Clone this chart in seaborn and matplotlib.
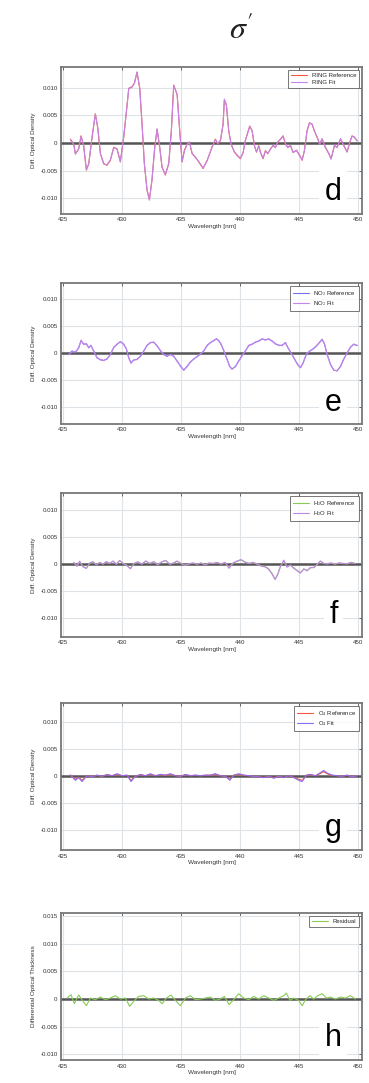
import matplotlib
matplotlib.use("Agg")
import matplotlib.pyplot as plt
import seaborn as sns
import pandas as pd
from matplotlib.ticker import FixedLocator, FixedFormatter

# ---- spectra (wavelength in nm, differential optical density) ----
ring_wl = [425.59, 425.88, 426.02, 426.30, 426.50, 426.72, 426.95, 427.15, 427.43, 427.71,
           427.91, 428.14, 428.42, 428.70, 428.98, 429.27, 429.55, 429.83, 430.11, 430.40,
           430.54, 430.82, 431.02, 431.24, 431.47, 431.67, 431.86, 432.09, 432.29, 432.51,
           432.74, 432.94, 433.16, 433.36, 433.64, 433.93, 434.15, 434.35, 434.64, 434.86,
           435.06, 435.25, 435.48, 435.68, 435.91, 436.19, 436.47, 436.84, 437.18, 437.60,
           437.88, 438.08, 438.31, 438.53, 438.64, 438.81, 439.01, 439.21, 439.49, 439.72,
           440.00, 440.23, 440.42, 440.62, 440.79, 440.99, 441.19, 441.36, 441.55, 441.70,
           441.92, 442.12, 442.32, 442.54, 442.77, 442.97, 443.16, 443.39, 443.62, 443.81,
           444.01, 444.24, 444.46, 444.75, 445.03, 445.23, 445.42, 445.65, 445.85, 446.07,
           446.27, 446.50, 446.72, 446.92, 447.20, 447.49, 447.68, 447.97, 448.19, 448.48,
           448.70, 449.04, 449.27, 449.46, 449.66, 449.89]
ring_ref = [0.00071, -0.00018, -0.00196, -0.00107, 0.00131, -0.00048, -0.00494, -0.00375, 0.00101, 0.00530,
            0.00280, -0.00196, -0.00375, -0.00405, -0.00315, -0.00077, -0.00107, -0.00345, 0.00101, 0.00696,
            0.00994, 0.01023, 0.01083, 0.01291, 0.00994, 0.00339, -0.00375, -0.00851, -0.01029, -0.00672,
            -0.00077, 0.00250, -0.00077, -0.00434, -0.00583, -0.00375, 0.00220, 0.01053, 0.00875, 0.00220,
            -0.00345, -0.00137, -0.00018, 0.00012, -0.00196, -0.00256, -0.00345, -0.00464, -0.00315, -0.00077,
            0.00071, -0.00018, 0.00042, 0.00339, 0.00785, 0.00696, 0.00220, -0.00018, -0.00167, -0.00226,
            -0.00286, -0.00167, 0.00042, 0.00190, 0.00309, 0.00220, -0.00048, -0.00167, -0.00048, -0.00167,
            -0.00286, -0.00137, -0.00196, -0.00107, -0.00048, -0.00077, 0.00012, 0.00071, 0.00131, -0.00018,
            -0.00077, -0.00048, -0.00167, -0.00137, -0.00226, -0.00315, -0.00137, 0.00220, 0.00369, 0.00339,
            0.00220, 0.00101, -0.00018, 0.00071, -0.00077, -0.00196, -0.00286, -0.00048, -0.00077, 0.00071,
            -0.00018, -0.00167, 0.00012, 0.00131, 0.00101, 0.00042]
ring_fit = [0.00060, -0.00025, -0.00205, -0.00100, 0.00120, -0.00055, -0.00480, -0.00385, 0.00110, 0.00520,
            0.00290, -0.00190, -0.00385, -0.00395, -0.00305, -0.00085, -0.00115, -0.00335, 0.00110, 0.00686,
            0.00984, 0.01013, 0.01093, 0.01281, 0.01004, 0.00329, -0.00365, -0.00861, -0.01039, -0.00662,
            -0.00087, 0.00260, -0.00067, -0.00444, -0.00573, -0.00365, 0.00230, 0.01043, 0.00885, 0.00210,
            -0.00335, -0.00147, -0.00028, 0.00022, -0.00186, -0.00266, -0.00335, -0.00454, -0.00325, -0.00067,
            0.00061, -0.00008, 0.00052, 0.00329, 0.00795, 0.00686, 0.00230, -0.00028, -0.00157, -0.00216,
            -0.00276, -0.00177, 0.00052, 0.00180, 0.00299, 0.00230, -0.00058, -0.00157, -0.00058, -0.00177,
            -0.00276, -0.00147, -0.00186, -0.00117, -0.00038, -0.00087, 0.00022, 0.00061, 0.00121, -0.00008,
            -0.00087, -0.00038, -0.00177, -0.00127, -0.00236, -0.00305, -0.00147, 0.00230, 0.00359, 0.00349,
            0.00210, 0.00111, -0.00028, 0.00081, -0.00087, -0.00186, -0.00296, -0.00038, -0.00087, 0.00081,
            -0.00028, -0.00157, 0.00022, 0.00121, 0.00111, 0.00032]

no2_wl = [425.45, 425.73, 426.02, 426.30, 426.50, 426.72, 426.95, 427.15, 427.34, 427.57,
          427.85, 428.14, 428.42, 428.70, 428.98, 429.27, 429.55, 429.83, 430.11, 430.34,
          430.54, 430.73, 430.96, 431.24, 431.53, 431.81, 432.09, 432.37, 432.66, 432.94,
          433.22, 433.50, 433.78, 434.07, 434.35, 434.63, 434.92, 435.20, 435.48, 435.76,
          436.05, 436.33, 436.61, 436.89, 437.18, 437.46, 437.74, 437.97, 438.16, 438.36,
          438.59, 438.87, 439.10, 439.29, 439.58, 439.86, 440.14, 440.42, 440.71, 440.99,
          441.27, 441.55, 441.84, 442.12, 442.40, 442.68, 442.97, 443.25, 443.53, 443.81,
          444.01, 444.29, 444.58, 444.86, 445.09, 445.31, 445.59, 445.88, 446.16, 446.44,
          446.72, 446.92, 447.12, 447.35, 447.63, 447.91, 448.19, 448.48, 448.76, 449.04,
          449.32, 449.60, 449.89]
no2_ref = [-0.00020, 0.00044, 0.00010, 0.00106, 0.00230, 0.00170, 0.00170, 0.00106, 0.00140, 0.00044,
           -0.00080, -0.00125, -0.00130, -0.00110, -0.00020, 0.00106, 0.00170, 0.00210, 0.00170, 0.00075,
           -0.00080, -0.00175, -0.00130, -0.00110, -0.00060, 0.00044, 0.00140, 0.00200, 0.00200, 0.00140,
           0.00044, -0.00020, -0.00060, -0.00020, -0.00060, -0.00140, -0.00240, -0.00310, -0.00250, -0.00160,
           -0.00110, -0.00060, -0.00020, 0.00044, 0.00140, 0.00200, 0.00230, 0.00270, 0.00230, 0.00170,
           0.00044, -0.00110, -0.00250, -0.00290, -0.00250, -0.00140, -0.00050, 0.00044, 0.00140, 0.00170,
           0.00200, 0.00230, 0.00260, 0.00250, 0.00260, 0.00230, 0.00170, 0.00150, 0.00140, 0.00200,
           0.00106, 0.00010, -0.00110, -0.00210, -0.00270, -0.00175, -0.00020, 0.00044, 0.00075, 0.00140,
           0.00200, 0.00260, 0.00170, -0.00020, -0.00210, -0.00310, -0.00330, -0.00240, -0.00110, 0.00010,
           0.00106, 0.00170, 0.00140]
no2_fit = [-0.00030, 0.00030, 0.00025, 0.00095, 0.00245, 0.00160, 0.00180, 0.00095, 0.00150, 0.00035,
           -0.00090, -0.00115, -0.00140, -0.00100, -0.00030, 0.00115, 0.00160, 0.00220, 0.00160, 0.00085,
           -0.00090, -0.00190, -0.00120, -0.00120, -0.00050, 0.00035, 0.00150, 0.00190, 0.00210, 0.00130,
           0.00055, -0.00030, -0.00050, -0.00030, -0.00050, -0.00150, -0.00230, -0.00320, -0.00240, -0.00170,
           -0.00100, -0.00070, -0.00010, 0.00035, 0.00150, 0.00190, 0.00240, 0.00260, 0.00240, 0.00160,
           0.00055, -0.00120, -0.00240, -0.00300, -0.00240, -0.00150, -0.00040, 0.00035, 0.00150, 0.00160,
           0.00210, 0.00220, 0.00270, 0.00240, 0.00270, 0.00220, 0.00180, 0.00140, 0.00150, 0.00190,
           0.00115, 0.00000, -0.00100, -0.00220, -0.00260, -0.00185, -0.00010, 0.00035, 0.00085, 0.00130,
           0.00210, 0.00250, 0.00180, -0.00030, -0.00200, -0.00320, -0.00320, -0.00250, -0.00100, 0.00000,
           0.00115, 0.00160, 0.00150]

h2o_wl = [425.88, 426.16, 426.38, 426.67, 426.95, 427.23, 427.51, 427.80, 428.08, 428.36,
          428.64, 428.93, 429.21, 429.49, 429.77, 430.06, 430.34, 430.68, 430.96, 431.30,
          431.64, 431.98, 432.32, 432.66, 433.00, 433.33, 433.67, 434.01, 434.35, 434.63,
          434.97, 435.31, 435.65, 435.99, 436.33, 436.67, 437.01, 437.35, 437.68, 438.02,
          438.36, 438.70, 439.04, 439.38, 439.72, 440.06, 440.40, 440.74, 441.07, 441.41,
          441.75, 442.09, 442.37, 442.66, 442.94, 443.16, 443.39, 443.67, 443.95, 444.24,
          444.52, 444.80, 445.08, 445.37, 445.65, 445.93, 446.22, 446.50, 446.78, 447.06,
          447.35, 447.68, 448.02, 448.36, 448.70, 449.04, 449.38, 449.72]
h2o_ref = [0.00024, -0.00036, 0.00042, -0.00048, -0.00079, 0.00012, 0.00036, -0.00012, 0.00024, 0.00000,
           0.00036, 0.00012, 0.00048, 0.00000, 0.00061, 0.00012, -0.00018, -0.00085, 0.00000, 0.00036,
           0.00000, 0.00048, 0.00012, 0.00036, -0.00012, 0.00036, 0.00061, 0.00000, 0.00012, 0.00048,
           0.00012, -0.00024, 0.00000, 0.00012, 0.00000, 0.00012, -0.00012, 0.00012, 0.00012, 0.00024,
           0.00000, 0.00024, -0.00073, 0.00012, 0.00048, 0.00073, 0.00036, 0.00012, 0.00024, 0.00000,
           -0.00036, -0.00048, -0.00085, -0.00170, -0.00280, -0.00200, -0.00050, 0.00061, -0.00050, -0.00024,
           -0.00073, -0.00120, -0.00160, -0.00097, -0.00120, -0.00073, -0.00061, -0.00012, 0.00048, 0.00012,
           0.00000, 0.00012, 0.00000, 0.00012, 0.00012, 0.00000, 0.00024, 0.00012]
h2o_fit = [0.00030, -0.00045, 0.00050, -0.00055, -0.00085, 0.00020, 0.00040, -0.00020, 0.00030, -0.00005,
           0.00045, 0.00005, 0.00055, -0.00010, 0.00065, 0.00005, -0.00025, -0.00090, 0.00005, 0.00040,
           -0.00005, 0.00055, 0.00005, 0.00045, -0.00020, 0.00040, 0.00065, -0.00010, 0.00020, 0.00055,
           0.00005, -0.00030, 0.00005, 0.00020, -0.00005, 0.00020, -0.00020, 0.00020, 0.00005, 0.00030,
           -0.00005, 0.00030, -0.00080, 0.00020, 0.00055, 0.00080, 0.00030, 0.00005, 0.00030, -0.00005,
           -0.00040, -0.00055, -0.00095, -0.00180, -0.00290, -0.00190, -0.00045, 0.00070, -0.00060, -0.00020,
           -0.00080, -0.00125, -0.00170, -0.00090, -0.00130, -0.00065, -0.00070, -0.00005, 0.00055, 0.00005,
           0.00005, 0.00020, -0.00005, 0.00020, 0.00005, 0.00005, 0.00030, 0.00005]

o4_wl = [425.59, 426.02, 426.30, 426.58, 427.01, 427.43, 427.85, 428.28, 428.70, 429.12,
         429.55, 429.97, 430.40, 430.73, 431.10, 431.53, 431.95, 432.37, 432.80, 433.22,
         433.64, 434.07, 434.49, 434.92, 435.34, 435.76, 436.19, 436.61, 437.03, 437.46,
         437.88, 438.31, 438.73, 439.10, 439.44, 439.86, 440.28, 440.71, 441.13, 441.55,
         441.98, 442.40, 442.83, 443.25, 443.67, 444.10, 444.52, 444.94, 445.23, 445.59,
         445.93, 446.36, 446.72, 447.06, 447.35, 447.77, 448.19, 448.62, 449.04, 449.46,
         449.89]
o4_ref = [0.00018, -0.00060, -0.00020, -0.00080, 0.00006, -0.00012, 0.00012, -0.00006, 0.00024, 0.00006,
          0.00030, 0.00006, 0.00012, -0.00080, -0.00006, 0.00024, 0.00006, 0.00030, 0.00006, 0.00024,
          0.00012, 0.00030, 0.00006, -0.00006, 0.00024, 0.00006, 0.00012, 0.00006, 0.00012, 0.00012,
          0.00030, 0.00006, -0.00006, -0.00060, 0.00012, 0.00030, 0.00012, 0.00006, -0.00006, -0.00012,
          -0.00024, -0.00006, -0.00030, -0.00006, -0.00024, 0.00006, -0.00024, -0.00060, -0.00080, 0.00012,
          0.00024, 0.00006, 0.00042, 0.00080, 0.00042, 0.00012, 0.00006, -0.00006, 0.00012, -0.00012,
          0.00006]
o4_fit = [0.00018, -0.00079, -0.00030, -0.00103, 0.00006, -0.00018, 0.00018, -0.00006, 0.00030, 0.00006,
          0.00042, 0.00006, 0.00018, -0.00103, -0.00006, 0.00030, 0.00006, 0.00042, 0.00006, 0.00030,
          0.00018, 0.00042, 0.00006, -0.00006, 0.00030, 0.00006, 0.00018, 0.00006, 0.00018, 0.00018,
          0.00042, 0.00006, -0.00006, -0.00079, 0.00018, 0.00042, 0.00018, 0.00006, -0.00006, -0.00018,
          -0.00030, -0.00006, -0.00042, -0.00006, -0.00030, 0.00006, -0.00030, -0.00079, -0.00103, 0.00018,
          0.00030, 0.00006, 0.00055, 0.00103, 0.00055, 0.00018, 0.00006, -0.00006, 0.00018, -0.00018,
          0.00006]

res_wl = [425.31, 425.65, 425.93, 426.30, 426.67, 426.95, 427.29, 427.71, 428.14, 428.56,
          428.98, 429.41, 429.83, 430.25, 430.62, 430.96, 431.38, 431.81, 432.23, 432.65,
          433.08, 433.36, 433.73, 434.12, 434.49, 434.92, 435.34, 435.76, 436.19, 436.61,
          437.03, 437.46, 437.88, 438.30, 438.64, 439.04, 439.43, 439.86, 440.28, 440.71,
          441.13, 441.55, 441.98, 442.40, 442.82, 443.25, 443.67, 443.90, 444.18, 444.52,
          444.94, 445.23, 445.51, 445.88, 446.21, 446.55, 446.92, 447.29, 447.63, 448.05,
          448.47, 448.90, 449.32, 449.75]
residual = [0.00018, 0.00078, -0.00084, 0.00072, -0.00042, -0.00120, 0.00018, -0.00012, 0.00036, -0.00012,
            0.00018, 0.00060, 0.00000, 0.00018, -0.00132, -0.00042, 0.00048, 0.00060, 0.00000, 0.00018,
            -0.00024, -0.00084, 0.00018, 0.00072, -0.00024, -0.00120, 0.00018, 0.00060, -0.00012, 0.00000,
            0.00018, 0.00036, -0.00024, 0.00000, 0.00048, -0.00100, -0.00012, 0.00096, 0.00018, -0.00012,
            0.00048, 0.00000, 0.00060, 0.00018, -0.00024, 0.00018, 0.00060, 0.00108, -0.00024, 0.00018,
            -0.00024, -0.00120, -0.00012, 0.00060, 0.00000, 0.00060, 0.00096, 0.00018, 0.00036, 0.00000,
            0.00036, 0.00018, 0.00060, 0.00000]

wl_ticks = [425, 430, 435, 440, 445, 450]
od_ticks = [-0.010, -0.005, 0.0, 0.005, 0.010]
od_labels = ["-0.010", "-0.005", "0", "0.005", "0.010"]
res_ticks = [-0.010, -0.005, 0.0, 0.005, 0.010, 0.015]
res_labels = ["-0.010", "-0.005", "0", "0.005", "0.010", "0.015"]

RED = "#f0583f"
VIOLET = "#c585ea"
BLUE = "#7373f0"
GREEN = "#86cc55"
BLUEVIOLET = "#8d6cf0"

sns.set_theme(style="whitegrid")
plt.rcParams["font.family"] = ["Liberation Sans", "DejaVu Sans"]
plt.rcParams["mathtext.fontset"] = "stix"

fig = plt.figure(figsize=(3.69, 10.83), dpi=100)

panels = [
    dict(rect=[0.1653, 0.8024, 0.8157, 0.1357], ylim=(-0.0129, 0.0138), letter="d",
         series=[(ring_wl, ring_ref, RED, "RING Reference"), (ring_wl, ring_fit, VIOLET, "RING Fit")],
         ticks=od_ticks, labels=od_labels, ylabel="Diff. Optical Density"),
    dict(rect=[0.1653, 0.6085, 0.8157, 0.1302], ylim=(-0.0131, 0.0130), letter="e",
         series=[(no2_wl, no2_ref, BLUE, "NO$_2$ Reference"), (no2_wl, no2_fit, VIOLET, "NO$_2$ Fit")],
         ticks=od_ticks, labels=od_labels, ylabel="Diff. Optical Density"),
    dict(rect=[0.1653, 0.4118, 0.8157, 0.1330], ylim=(-0.0135, 0.0131), letter="f",
         series=[(h2o_wl, h2o_ref, GREEN, "H$_2$O Reference"), (h2o_wl, h2o_fit, VIOLET, "H$_2$O Fit")],
         ticks=od_ticks, labels=od_labels, ylabel="Diff. Optical Density"),
    dict(rect=[0.1653, 0.2151, 0.8157, 0.1357], ylim=(-0.0137, 0.0135), letter="g",
         series=[(o4_wl, o4_ref, RED, "O$_4$ Reference"), (o4_wl, o4_fit, BLUEVIOLET, "O$_4$ Fit")],
         ticks=od_ticks, labels=od_labels, ylabel="Diff. Optical Density"),
    dict(rect=[0.1653, 0.0212, 0.8157, 0.1357], ylim=(-0.0110, 0.0155), letter="h",
         series=[(res_wl, residual, GREEN, "Residual")],
         ticks=res_ticks, labels=res_labels, ylabel="Differential Optical Thickness"),
]

for p in panels:
    ax = fig.add_axes(p["rect"])
    ax.set_facecolor("white")
    ax.axhline(0, color="#555555", lw=1.8, zorder=1)
    for wl, vals, col, lab in p["series"]:
        df = pd.DataFrame({"Wavelength": wl, "OD": vals})
        sns.lineplot(data=df, x="Wavelength", y="OD", ax=ax, color=col, lw=0.8,
                     label=lab, zorder=3, estimator=None, sort=False)
    ax.set_xlim(424.8, 450.3)
    ax.set_ylim(*p["ylim"])
    ax.xaxis.set_major_locator(FixedLocator(wl_ticks))
    ax.yaxis.set_major_locator(FixedLocator(p["ticks"]))
    ax.yaxis.set_major_formatter(FixedFormatter(p["labels"]))
    ax.grid(True, color="#dde3e6", lw=0.8)
    for s in ax.spines.values():
        s.set_color("#777777")
        s.set_linewidth(1.3)
    ax.tick_params(axis="both", labelsize=4.4, length=2, width=0.5, direction="in",
                   colors="#333333", pad=2.5, right=True, top=True)
    ax.set_xlabel("Wavelength [nm]", fontsize=4.6, labelpad=1, color="#333333")
    ax.set_ylabel(p["ylabel"], fontsize=4.6, labelpad=3, color="#333333")
    leg = ax.legend(loc="upper right", fontsize=4.3, handlelength=2.6, frameon=True,
                    borderpad=0.5, labelspacing=0.25, fancybox=False, borderaxespad=0.5,
                    handletextpad=0.8)
    leg.get_frame().set_edgecolor("#555555")
    leg.get_frame().set_linewidth(0.7)
    # panel letter on a white patch that hides the grid but stays under the frame
    ax.text(0.905, 0.15, p["letter"], transform=ax.transAxes, fontsize=22,
            ha="center", va="center", color="black", zorder=2, clip_on=True,
            bbox=dict(facecolor="white", edgecolor="none", pad=4))

fig.text(0.655, 0.972, r"$\sigma'$", fontsize=23, ha="center", va="center",
         color="#222222")

fig.savefig("out.png", dpi=100, facecolor="white")
